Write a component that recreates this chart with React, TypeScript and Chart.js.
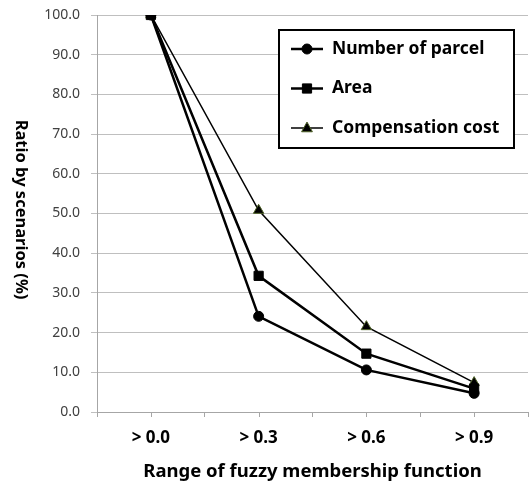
import React, { useEffect, useRef } from "react";
import { Chart, registerables } from "chart.js";

Chart.register(...registerables);

const categories = ["> 0.0", "> 0.3", "> 0.6", "> 0.9"];
const parcelValues = [100.0, 24.1, 10.6, 4.7];
const areaValues = [100.0, 34.3, 14.7, 5.9];
const costValues = [100.0, 50.8, 21.5, 7.4];
const seriesNames = ["Number of parcel", "Area", "Compensation cost"];
const yTitle = "Ratio by scenarios (%)";
const xTitle = "Range of fuzzy membership function";

const FONT = "'Noto Sans', 'DejaVu Sans', sans-serif";

const yTitlePlugin = {
  id: "yTitleRot",
  afterDraw(chart: any) {
    const { ctx, chartArea } = chart;
    ctx.save();
    ctx.translate(21, (chartArea.top + chartArea.bottom) / 2 - 4);
    ctx.rotate(Math.PI / 2);
    ctx.font = `bold 16.5px ${FONT}`;
    ctx.fillStyle = "#000";
    ctx.textAlign = "center";
    ctx.textBaseline = "middle";
    ctx.fillText(yTitle, 0, 0);
    ctx.restore();
  },
};

const centerTicksPlugin = {
  id: "centerTicks",
  afterDraw(chart: any) {
    const { ctx } = chart;
    const xs = chart.scales.x;
    ctx.save();
    ctx.strokeStyle = "#a6a6a6";
    ctx.lineWidth = 1;
    for (let i = 0; i < categories.length; i++) {
      const x = Math.round(xs.getPixelForValue(i)) + 0.5;
      ctx.beginPath();
      ctx.moveTo(x, xs.top);
      ctx.lineTo(x, xs.top + 5);
      ctx.stroke();
    }
    ctx.restore();
  },
};

function drawMarker(ctx: CanvasRenderingContext2D, style: string, r: number, x: number, y: number) {
  ctx.beginPath();
  if (style === "circle") {
    ctx.arc(x, y, r, 0, Math.PI * 2);
  } else if (style === "rect") {
    const s = r * Math.SQRT1_2;
    ctx.rect(x - s, y - s, 2 * s, 2 * s);
  } else {
    const s = r * 0.9;
    ctx.moveTo(x, y - s * 1.1);
    ctx.lineTo(x + s, y + s * 0.7);
    ctx.lineTo(x - s, y + s * 0.7);
    ctx.closePath();
  }
  ctx.fill();
  ctx.stroke();
}

const legendPlugin = {
  id: "boxLegend",
  afterDraw(chart: any) {
    const { ctx, chartArea } = chart;
    const right = chartArea.right - 14;
    const left = right - 235;
    const top = chartArea.top + 15;
    const h = 118;
    ctx.save();
    ctx.fillStyle = "#fff";
    ctx.fillRect(left, top, right - left, h);
    ctx.strokeStyle = "#000";
    ctx.lineWidth = 2;
    ctx.strokeRect(left, top, right - left, h);
    chart.data.datasets.forEach((ds: any, i: number) => {
      const y = top + 19 + i * 39.5;
      ctx.strokeStyle = "#000";
      ctx.lineWidth = ds.borderWidth;
      ctx.beginPath();
      ctx.moveTo(left + 12, y);
      ctx.lineTo(left + 44, y);
      ctx.stroke();
      ctx.fillStyle = ds.pointBackgroundColor;
      ctx.strokeStyle = ds.pointBorderColor;
      ctx.lineWidth = 1;
      drawMarker(ctx, ds.pointStyle, ds.pointRadius, left + 28, y);
      ctx.fillStyle = "#000";
      ctx.font = `bold 17.5px ${FONT}`;
      ctx.textAlign = "left";
      ctx.textBaseline = "middle";
      ctx.fillText(ds.label, left + 53, y);
    });
    ctx.restore();
  },
};

export default function App() {
  const ref = useRef<HTMLCanvasElement | null>(null);
  useEffect(() => {
    document.body.style.margin = "0";
    const canvas = ref.current!;
    const chart = new Chart(canvas, {
      type: "line",
      data: {
        labels: categories,
        datasets: [
          {
            label: seriesNames[0],
            data: parcelValues,
            borderColor: "#000",
            borderWidth: 2.5,
            pointStyle: "circle",
            pointRadius: 5,
            pointBackgroundColor: "#000",
            pointBorderColor: "#000",
            pointBorderWidth: 1,
          },
          {
            label: seriesNames[1],
            data: areaValues,
            borderColor: "#000",
            borderWidth: 2.5,
            pointStyle: "rect",
            pointRadius: 6.5,
            pointBackgroundColor: "#000",
            pointBorderColor: "#000",
            pointBorderWidth: 1,
          },
          {
            label: seriesNames[2],
            data: costValues,
            borderColor: "#000",
            borderWidth: 1.5,
            pointStyle: "triangle",
            pointRadius: 6,
            pointBackgroundColor: "#000",
            pointBorderColor: "#4f6228",
            pointBorderWidth: 1,
          },
        ],
      } as any,
      options: {
        animation: false,
        responsive: false,
        devicePixelRatio: 1,
        layout: { autoPadding: false, padding: { top: 15, right: 1, left: 0, bottom: 0 } },
        plugins: { legend: { display: false }, tooltip: { enabled: false } },
        elements: { line: { tension: 0 } },
        scales: {
          x: {
            type: "category",
            offset: true,
            grid: {
              offset: true,
              drawOnChartArea: false,
              drawTicks: true,
              tickLength: 5,
              color: "#a6a6a6",
            },
            border: { color: "#a6a6a6" },
            ticks: {
              color: "#000",
              font: { family: FONT, size: 17, weight: "bold" },
              padding: 11,
              maxRotation: 0,
            },
            title: {
              display: true,
              text: xTitle,
              color: "#000",
              font: { family: FONT, size: 18.5, weight: "bold" },
              padding: { top: 4, bottom: 0 },
            },
            afterFit(scale: any) {
              scale.height = 71;
              scale.paddingLeft = 0;
              scale.paddingRight = 0;
            },
          },
          y: {
            min: 0,
            max: 100,
            ticks: {
              stepSize: 10,
              color: "#404040",
              font: { family: FONT, size: 14 },
              padding: 11,
              callback: (v: any) => Number(v).toFixed(1),
            },
            grid: { color: "#bfbfbf", tickLength: 6, drawTicks: true },
            border: { color: "#a6a6a6" },
            afterFit(scale: any) {
              scale.width = 97;
              scale.paddingTop = 0;
              scale.paddingBottom = 0;
            },
          },
        },
      } as any,
      plugins: [yTitlePlugin, centerTicksPlugin, legendPlugin],
    });
    return () => chart.destroy();
  }, []);
  return <canvas ref={ref} width={529} height={483} style={{ display: "block" }} />;
}
